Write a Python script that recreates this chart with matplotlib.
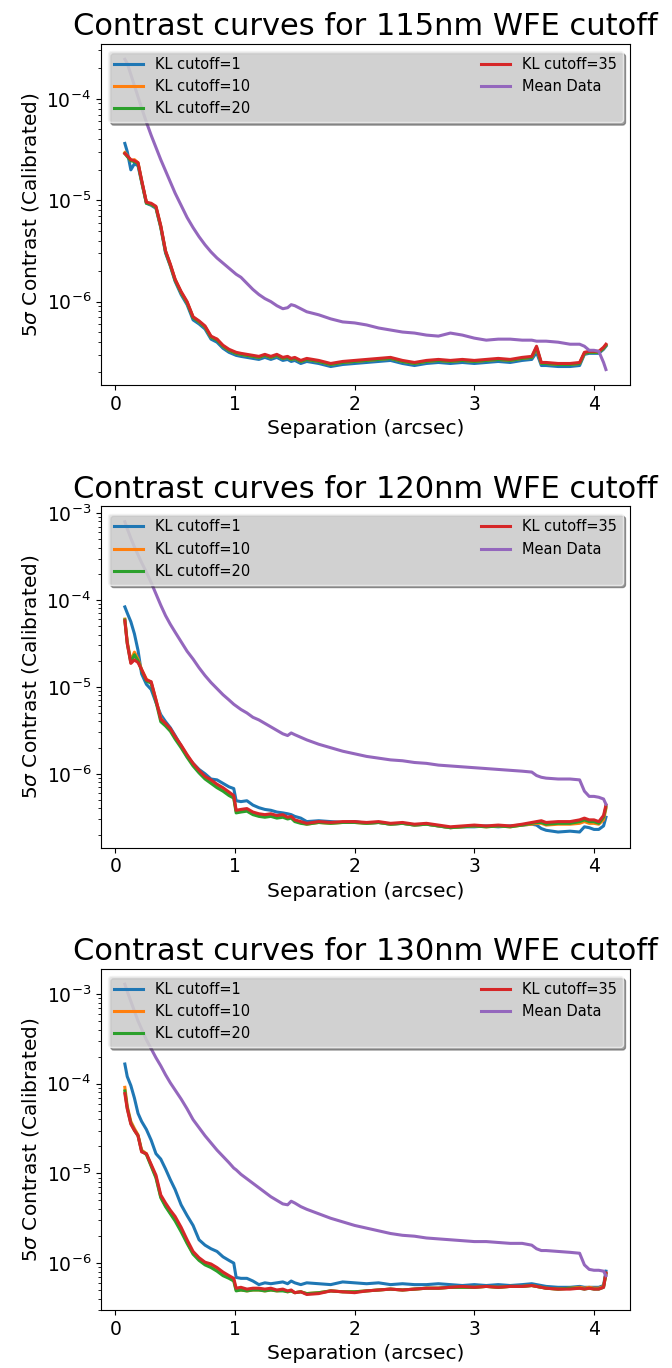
import matplotlib.pyplot as plt
import numpy as np
from matplotlib.ticker import MultipleLocator

# separation grid (arcsec), shared by all curves
sep = [0.08, 0.10, 0.13, 0.16, 0.19, 0.22, 0.26, 0.30, 0.34, 0.38,
       0.42, 0.46, 0.50, 0.55, 0.60, 0.65, 0.70, 0.75, 0.80, 0.85,
       0.90, 0.95, 0.99, 1.01, 1.05, 1.10, 1.15, 1.20, 1.25, 1.30,
       1.35, 1.40, 1.44, 1.47, 1.50, 1.55, 1.60, 1.70, 1.80, 1.90,
       2.00, 2.10, 2.20, 2.30, 2.40, 2.50, 2.60, 2.70, 2.80, 2.90,
       3.00, 3.10, 3.20, 3.30, 3.40, 3.48, 3.52, 3.56, 3.60, 3.70,
       3.80, 3.88, 3.92, 3.96, 4.00, 4.04, 4.08, 4.10]

# all contrast values below are log10 of the 5-sigma contrast

# --- 115nm WFE cutoff ---
kl1_115 = [-4.44, -4.52, -4.70, -4.64, -4.66, -4.82, -5.03, -5.05, -5.08, -5.27,
           -5.52, -5.65, -5.80, -5.93, -6.03, -6.18, -6.22, -6.27, -6.37, -6.40,
           -6.46, -6.50, -6.52, -6.53, -6.54, -6.55, -6.56, -6.57, -6.55, -6.57,
           -6.55, -6.58, -6.57, -6.59, -6.58, -6.61, -6.59, -6.61, -6.64, -6.62,
           -6.61, -6.60, -6.59, -6.58, -6.61, -6.63, -6.61, -6.60, -6.61, -6.60,
           -6.61, -6.60, -6.59, -6.60, -6.58, -6.57, -6.50, -6.63, -6.63, -6.64,
           -6.64, -6.63, -6.52, -6.51, -6.51, -6.51, -6.47, -6.44]
kl10_115 = [-4.53, -4.56, -4.61, -4.60, -4.63, -4.81, -5.02, -5.04, -5.07, -5.26,
            -5.50, -5.64, -5.78, -5.91, -6.01, -6.15, -6.20, -6.25, -6.35, -6.37,
            -6.44, -6.48, -6.50, -6.51, -6.52, -6.53, -6.54, -6.55, -6.53, -6.55,
            -6.53, -6.56, -6.55, -6.57, -6.56, -6.59, -6.57, -6.59, -6.62, -6.60,
            -6.59, -6.58, -6.57, -6.56, -6.59, -6.61, -6.59, -6.58, -6.59, -6.58,
            -6.59, -6.58, -6.57, -6.58, -6.56, -6.55, -6.46, -6.61, -6.61, -6.62,
            -6.62, -6.61, -6.51, -6.50, -6.50, -6.50, -6.46, -6.43]
kl20_115 = [-4.54, -4.57, -4.61, -4.62, -4.64, -4.81, -5.03, -5.04, -5.07, -5.26,
            -5.51, -5.64, -5.79, -5.91, -6.01, -6.16, -6.20, -6.25, -6.35, -6.38,
            -6.44, -6.48, -6.50, -6.51, -6.52, -6.53, -6.54, -6.55, -6.53, -6.55,
            -6.53, -6.56, -6.55, -6.57, -6.56, -6.59, -6.57, -6.59, -6.62, -6.60,
            -6.59, -6.58, -6.57, -6.56, -6.59, -6.61, -6.59, -6.58, -6.59, -6.58,
            -6.59, -6.58, -6.57, -6.58, -6.56, -6.55, -6.45, -6.61, -6.61, -6.62,
            -6.62, -6.61, -6.51, -6.50, -6.50, -6.50, -6.46, -6.43]
kl35_115 = [-4.54, -4.56, -4.60, -4.61, -4.63, -4.80, -5.02, -5.03, -5.06, -5.25,
            -5.50, -5.63, -5.78, -5.90, -6.00, -6.15, -6.19, -6.24, -6.34, -6.37,
            -6.43, -6.47, -6.49, -6.50, -6.51, -6.52, -6.53, -6.54, -6.52, -6.54,
            -6.52, -6.55, -6.54, -6.56, -6.55, -6.58, -6.56, -6.58, -6.61, -6.59,
            -6.58, -6.57, -6.56, -6.55, -6.58, -6.60, -6.58, -6.57, -6.58, -6.57,
            -6.58, -6.57, -6.56, -6.57, -6.55, -6.54, -6.44, -6.60, -6.60, -6.61,
            -6.61, -6.60, -6.50, -6.49, -6.49, -6.49, -6.45, -6.42]
mean_115 = [-3.61, -3.65, -3.76, -3.87, -3.98, -4.09, -4.23, -4.36, -4.48, -4.60,
            -4.71, -4.82, -4.93, -5.05, -5.17, -5.27, -5.36, -5.44, -5.51, -5.57,
            -5.62, -5.67, -5.71, -5.73, -5.76, -5.82, -5.88, -5.93, -5.97, -6.00,
            -6.04, -6.07, -6.06, -6.03, -6.04, -6.07, -6.10, -6.13, -6.17, -6.20,
            -6.21, -6.23, -6.26, -6.28, -6.30, -6.31, -6.33, -6.34, -6.31, -6.33,
            -6.36, -6.38, -6.37, -6.37, -6.38, -6.38, -6.39, -6.39, -6.39, -6.40,
            -6.42, -6.42, -6.44, -6.48, -6.48, -6.49, -6.60, -6.67]

# --- 120nm WFE cutoff ---
kl1_120 = [-4.08, -4.15, -4.25, -4.39, -4.58, -4.85, -4.97, -5.03, -5.18, -5.32,
           -5.40, -5.47, -5.56, -5.68, -5.80, -5.88, -5.95, -6.00, -6.06, -6.07,
           -6.11, -6.15, -6.17, -6.31, -6.32, -6.31, -6.36, -6.39, -6.41, -6.42,
           -6.44, -6.45, -6.46, -6.47, -6.49, -6.51, -6.55, -6.54, -6.55, -6.56,
           -6.55, -6.57, -6.56, -6.58, -6.57, -6.59, -6.58, -6.60, -6.62, -6.61,
           -6.61, -6.60, -6.61, -6.60, -6.59, -6.58, -6.59, -6.63, -6.65, -6.67,
           -6.66, -6.67, -6.61, -6.62, -6.64, -6.64, -6.60, -6.50]
kl10_120 = [-4.22, -4.48, -4.70, -4.60, -4.68, -4.80, -4.91, -4.95, -5.15, -5.36,
            -5.43, -5.49, -5.58, -5.68, -5.79, -5.89, -5.97, -6.04, -6.09, -6.14,
            -6.18, -6.23, -6.27, -6.43, -6.43, -6.42, -6.46, -6.48, -6.49, -6.48,
            -6.50, -6.49, -6.51, -6.50, -6.54, -6.56, -6.58, -6.56, -6.57, -6.56,
            -6.56, -6.57, -6.56, -6.58, -6.57, -6.59, -6.58, -6.60, -6.62, -6.61,
            -6.60, -6.61, -6.60, -6.61, -6.59, -6.58, -6.57, -6.57, -6.59, -6.58,
            -6.58, -6.57, -6.55, -6.57, -6.57, -6.58, -6.53, -6.40]
kl20_120 = [-4.23, -4.50, -4.72, -4.63, -4.70, -4.81, -4.93, -4.96, -5.17, -5.40,
            -5.45, -5.51, -5.60, -5.70, -5.81, -5.91, -5.99, -6.06, -6.11, -6.16,
            -6.20, -6.25, -6.28, -6.45, -6.44, -6.43, -6.47, -6.49, -6.50, -6.49,
            -6.51, -6.50, -6.52, -6.51, -6.55, -6.57, -6.58, -6.56, -6.57, -6.56,
            -6.56, -6.57, -6.56, -6.58, -6.57, -6.59, -6.58, -6.60, -6.62, -6.61,
            -6.60, -6.61, -6.60, -6.61, -6.59, -6.57, -6.56, -6.56, -6.58, -6.57,
            -6.57, -6.55, -6.53, -6.55, -6.55, -6.57, -6.50, -6.38]
kl35_120 = [-4.24, -4.50, -4.73, -4.69, -4.72, -4.80, -4.92, -4.94, -5.15, -5.37,
            -5.42, -5.48, -5.57, -5.67, -5.78, -5.88, -5.96, -6.03, -6.07, -6.12,
            -6.16, -6.21, -6.25, -6.42, -6.41, -6.40, -6.44, -6.46, -6.47, -6.46,
            -6.48, -6.47, -6.50, -6.49, -6.53, -6.55, -6.57, -6.55, -6.56, -6.55,
            -6.55, -6.56, -6.55, -6.57, -6.56, -6.58, -6.57, -6.59, -6.61, -6.60,
            -6.59, -6.60, -6.59, -6.60, -6.58, -6.56, -6.55, -6.54, -6.56, -6.55,
            -6.55, -6.53, -6.51, -6.53, -6.53, -6.55, -6.48, -6.36]
mean_120 = [-3.10, -3.18, -3.29, -3.39, -3.48, -3.57, -3.68, -3.80, -3.93, -4.06,
            -4.18, -4.28, -4.37, -4.48, -4.59, -4.68, -4.78, -4.87, -4.95, -5.02,
            -5.09, -5.15, -5.20, -5.22, -5.26, -5.30, -5.35, -5.38, -5.42, -5.46,
            -5.50, -5.54, -5.56, -5.53, -5.55, -5.58, -5.61, -5.66, -5.70, -5.74,
            -5.77, -5.80, -5.82, -5.84, -5.85, -5.87, -5.88, -5.90, -5.91, -5.92,
            -5.93, -5.94, -5.95, -5.96, -5.97, -5.98, -6.02, -6.04, -6.05, -6.06,
            -6.06, -6.07, -6.20, -6.26, -6.26, -6.27, -6.29, -6.35]

# --- 130nm WFE cutoff ---
kl1_130 = [-3.78, -3.92, -4.02, -4.16, -4.33, -4.42, -4.51, -4.63, -4.78, -4.84,
           -4.95, -5.07, -5.18, -5.35, -5.47, -5.58, -5.74, -5.80, -5.84, -5.87,
           -5.93, -5.97, -6.00, -6.16, -6.17, -6.17, -6.20, -6.24, -6.22, -6.23,
           -6.22, -6.21, -6.23, -6.20, -6.22, -6.24, -6.22, -6.23, -6.24, -6.21,
           -6.22, -6.23, -6.22, -6.24, -6.23, -6.24, -6.24, -6.23, -6.24, -6.25,
           -6.24, -6.25, -6.24, -6.25, -6.24, -6.23, -6.24, -6.25, -6.26, -6.27,
           -6.27, -6.26, -6.27, -6.27, -6.27, -6.27, -6.25, -6.09]
kl10_130 = [-4.04, -4.25, -4.42, -4.50, -4.57, -4.74, -4.78, -4.91, -5.04, -5.26,
            -5.36, -5.44, -5.51, -5.63, -5.77, -5.89, -5.96, -6.01, -6.04, -6.08,
            -6.13, -6.16, -6.19, -6.30, -6.30, -6.31, -6.30, -6.30, -6.31, -6.30,
            -6.31, -6.30, -6.32, -6.31, -6.33, -6.32, -6.34, -6.33, -6.31, -6.32,
            -6.32, -6.31, -6.30, -6.29, -6.30, -6.29, -6.28, -6.28, -6.27, -6.27,
            -6.27, -6.26, -6.27, -6.26, -6.26, -6.25, -6.26, -6.27, -6.28, -6.29,
            -6.28, -6.27, -6.28, -6.27, -6.28, -6.28, -6.26, -6.12]
kl20_130 = [-4.08, -4.27, -4.44, -4.52, -4.58, -4.75, -4.79, -4.92, -5.05, -5.27,
            -5.37, -5.45, -5.53, -5.65, -5.78, -5.90, -5.97, -6.02, -6.05, -6.09,
            -6.14, -6.17, -6.20, -6.31, -6.30, -6.31, -6.30, -6.30, -6.31, -6.30,
            -6.31, -6.31, -6.32, -6.31, -6.33, -6.32, -6.34, -6.33, -6.31, -6.32,
            -6.32, -6.31, -6.30, -6.29, -6.30, -6.29, -6.28, -6.28, -6.27, -6.27,
            -6.27, -6.26, -6.27, -6.26, -6.26, -6.25, -6.26, -6.27, -6.28, -6.29,
            -6.28, -6.28, -6.29, -6.28, -6.29, -6.29, -6.27, -6.12]
kl35_130 = [-4.11, -4.28, -4.45, -4.52, -4.58, -4.76, -4.78, -4.90, -5.02, -5.24,
            -5.33, -5.41, -5.48, -5.60, -5.74, -5.87, -5.94, -5.99, -6.01, -6.05,
            -6.10, -6.14, -6.17, -6.28, -6.27, -6.29, -6.28, -6.28, -6.29, -6.28,
            -6.30, -6.29, -6.31, -6.30, -6.33, -6.32, -6.35, -6.34, -6.31, -6.32,
            -6.33, -6.31, -6.30, -6.29, -6.30, -6.29, -6.28, -6.28, -6.27, -6.26,
            -6.27, -6.26, -6.27, -6.26, -6.26, -6.25, -6.26, -6.27, -6.28, -6.29,
            -6.29, -6.28, -6.29, -6.28, -6.29, -6.29, -6.27, -6.11]
mean_130 = [-2.89, -2.97, -3.08, -3.19, -3.30, -3.39, -3.51, -3.61, -3.71, -3.80,
            -3.90, -3.99, -4.07, -4.17, -4.28, -4.40, -4.49, -4.58, -4.66, -4.74,
            -4.81, -4.88, -4.94, -4.96, -5.01, -5.06, -5.11, -5.16, -5.21, -5.26,
            -5.30, -5.34, -5.35, -5.31, -5.33, -5.37, -5.40, -5.45, -5.50, -5.54,
            -5.58, -5.61, -5.64, -5.67, -5.69, -5.70, -5.72, -5.73, -5.74, -5.75,
            -5.76, -5.76, -5.77, -5.78, -5.78, -5.80, -5.84, -5.86, -5.86, -5.87,
            -5.88, -5.89, -6.02, -6.07, -6.08, -6.08, -6.09, -6.14]

wfe_cutoffs = ['115', '120', '130']
labels = ['KL cutoff=1', 'KL cutoff=10', 'KL cutoff=20', 'KL cutoff=35', 'Mean Data']
curves = [
    [kl1_115, kl10_115, kl20_115, kl35_115, mean_115],
    [kl1_120, kl10_120, kl20_120, kl35_120, mean_120],
    [kl1_130, kl10_130, kl20_130, kl35_130, mean_130],
]

fig, axes = plt.subplots(3, 1, figsize=(6.72, 13.68), dpi=100)
fig.subplots_adjust(left=0.150, right=0.9375, top=0.968, bottom=0.0424, hspace=0.355)

for ax, wfe, panel in zip(axes, wfe_cutoffs, curves):
    for vals, lab in zip(panel, labels):
        ax.plot(sep, 10 ** np.array(vals), lw=2.2, label=lab)
    ax.set_yscale('log')
    ax.xaxis.set_major_locator(MultipleLocator(1))
    ax.set_title('Contrast curves for %snm WFE cutoff' % wfe, fontsize=22)
    ax.set_xlabel('Separation (arcsec)', fontsize=14.5)
    ax.set_ylabel(r'5$\sigma$ Contrast (Calibrated)', fontsize=14.5)
    ax.tick_params(labelsize=13.5)
    ax.legend(ncol=2, mode='expand', loc='upper left', fontsize=10.5,
              shadow=True, facecolor='0.87', edgecolor='0.95', framealpha=0.8)

plt.savefig('out.png', dpi=100)
